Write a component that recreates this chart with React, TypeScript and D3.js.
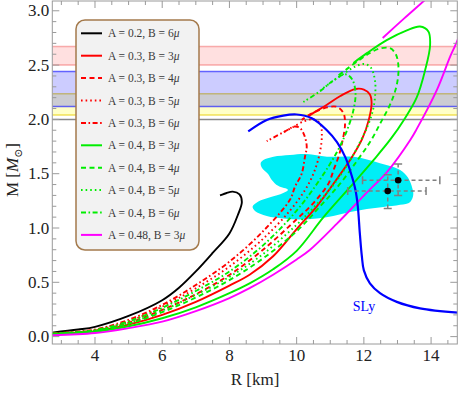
import React from 'react';
import * as d3 from 'd3';

type Pt = [number, number]; // [R in km, M in solar masses]

// mass-radius curves
const blackA02B6: Pt[] = [[2.72, 0.037], [3.5, 0.065], [4, 0.09], [5, 0.19], [6, 0.335], [6.5, 0.45], [7, 0.6], [7.5, 0.77], [8.0, 0.95], [8.25, 1.12], [8.37, 1.24], [8.3, 1.31], [8.1, 1.335], [7.9, 1.32], [7.72, 1.3]];
const redA03B3: Pt[] = [[2.72, 0.025], [4, 0.05], [5, 0.11], [6, 0.2], [7, 0.32], [8, 0.47], [8.6, 0.57], [9.3, 0.74], [10, 0.99], [10.6, 1.2], [11.1, 1.41], [11.6, 1.63], [11.95, 1.82], [12.15, 2.0], [12.23, 2.15], [12.18, 2.23], [12.0, 2.275], [11.75, 2.28], [11.3, 2.215], [10.9, 2.135], [10.5, 2.06], [10.35, 2.03]];
const redA03B4: Pt[] = [[2.72, 0.027], [4, 0.056], [5, 0.127], [6, 0.246], [7, 0.39], [8, 0.568], [9, 0.8], [10, 1.08], [10.5, 1.23], [10.95, 1.41], [11.1, 1.535], [11.25, 1.66], [11.35, 1.78], [11.44, 1.96], [11.39, 2.06], [11.2, 2.115], [10.9, 2.11], [10.45, 2.055], [10.15, 1.995]];
const redA03B5: Pt[] = [[2.72, 0.028], [4, 0.06], [5, 0.14], [6, 0.276], [7, 0.445], [8, 0.645], [9, 0.9], [9.8, 1.16], [10.25, 1.35], [10.5, 1.5], [10.68, 1.68], [10.75, 1.85], [10.7, 1.96], [10.5, 2.0], [10.2, 1.98], [9.9, 1.93], [9.6, 1.88]];
const redA03B6: Pt[] = [[2.72, 0.03], [4, 0.065], [5, 0.155], [6, 0.292], [7, 0.475], [8, 0.69], [9, 0.97], [9.8, 1.26], [9.95, 1.38], [10.15, 1.5], [10.25, 1.66], [10.3, 1.75], [10.22, 1.86], [10.1, 1.92], [9.95, 1.935], [9.6, 1.88], [9.11, 1.8]];
const greenA04B3: Pt[] = [[2.72, 0.022], [4, 0.046], [5, 0.095], [6, 0.169], [7, 0.27], [8, 0.4], [8.6, 0.49], [9.3, 0.62], [10, 0.79], [10.8, 1.1], [11.6, 1.38], [12.3, 1.63], [12.8, 1.82], [13.2, 2.0], [13.57, 2.2], [13.82, 2.45], [13.97, 2.68], [13.92, 2.81], [13.67, 2.855], [13.28, 2.82], [12.68, 2.73], [12.09, 2.61], [11.69, 2.52]];
const greenA04B4: Pt[] = [[2.72, 0.025], [4, 0.053], [5, 0.118], [6, 0.225], [7, 0.36], [8, 0.52], [9, 0.72], [10, 0.97], [10.7, 1.2], [11.3, 1.41], [11.8, 1.62], [12.2, 1.8], [12.5, 1.97], [12.8, 2.15], [12.98, 2.32], [13.03, 2.48], [12.95, 2.6], [12.78, 2.655], [12.5, 2.655], [12.2, 2.615], [11.9, 2.555], [11.5, 2.465], [11.2, 2.395]];
const greenA04B5: Pt[] = [[2.72, 0.026], [4, 0.055], [5, 0.125], [6, 0.24], [7, 0.385], [8, 0.55], [9, 0.76], [10, 1.03], [10.6, 1.22], [11.1, 1.4], [11.55, 1.6], [11.9, 1.8], [12.1, 1.93], [12.25, 2.06], [12.33, 2.2], [12.33, 2.36], [12.2, 2.48], [12.0, 2.51], [11.7, 2.48], [11.4, 2.42], [11.0, 2.335], [10.7, 2.27]];
const greenA04B6: Pt[] = [[2.72, 0.028], [4, 0.06], [5, 0.14], [6, 0.265], [7, 0.42], [8, 0.6], [9, 0.84], [10, 1.16], [10.7, 1.45], [11.2, 1.7], [11.5, 1.9], [11.7, 2.1], [11.75, 2.25], [11.65, 2.37], [11.45, 2.415], [11.1, 2.36], [10.7, 2.26], [10.2, 2.16]];
const magentaA048B3: Pt[] = [[2.72, 0.012], [4, 0.033], [5, 0.078], [6, 0.138], [7, 0.235], [8, 0.355], [8.6, 0.446], [9.3, 0.57], [10, 0.71], [10.4, 0.8], [11.2, 1.04], [12.1, 1.33], [12.7, 1.52], [13.38, 1.81], [13.57, 1.91], [14.17, 2.27], [14.57, 2.58], [14.8, 2.74], [15.05, 3.0], [15.15, 3.2], [15.0, 3.33], [14.6, 3.3], [14.1, 3.18], [13.82, 3.1], [13.2, 2.93], [12.56, 2.75]];
const slyCurve: Pt[] = [[8.56, 1.89], [9.11, 1.995], [9.6, 2.035], [10.0, 2.045], [10.45, 2.01], [10.9, 1.9], [11.2, 1.79], [11.45, 1.65], [11.6, 1.52], [11.75, 1.35], [11.82, 1.2], [11.88, 0.95], [11.94, 0.74], [12.0, 0.61], [12.18, 0.49], [12.48, 0.4], [12.98, 0.32], [13.67, 0.26], [14.8, 0.22]];

// NICER credible region outline
const nicerRegion: Pt[] = [[9.01, 1.627], [9.31, 1.657], [9.8, 1.673], [10.3, 1.682], [10.9, 1.657], [11.69, 1.655], [12.48, 1.597], [13.08, 1.535], [13.32, 1.461], [13.44, 1.369], [13.47, 1.305], [13.38, 1.24], [13.08, 1.213], [12.58, 1.194], [12.09, 1.176], [11.59, 1.148], [11.09, 1.111], [10.6, 1.088], [10.1, 1.079], [9.6, 1.088], [9.11, 1.111], [8.76, 1.157], [8.69, 1.197], [8.86, 1.243], [9.21, 1.282], [9.6, 1.323], [9.74, 1.351], [9.45, 1.388], [9.26, 1.443], [9.15, 1.498], [8.97, 1.553], [8.93, 1.599]];

// J0030 estimates
const psrR = [13.02, 12.71];
const psrRPlus = [1.24, 1.14];
const psrRMinus = [1.06, 1.19];
const psrM = [1.44, 1.34];
const psrMPlus = [0.15, 0.15];
const psrMMinus = [0.14, 0.16];

// horizontal mass constraints (drawn bottom-most first)
const bandLo = [2.04, 2.118, 2.5];
const bandHi = [2.235, 2.44, 2.67];
const lineMass = 2.0;

const legendA = ['0.2', '0.3', '0.3', '0.3', '0.3', '0.4', '0.4', '0.4', '0.4', '0.48'];
const legendB = ['6', '3', '4', '5', '6', '3', '4', '5', '6', '3'];

const xMajor = [4, 6, 8, 10, 12, 14];
const yMajor = [0, 0.5, 1, 1.5, 2, 2.5, 3];
const yTickLabels = ['0.0', '0.5', '1.0', '1.5', '2.0', '2.5', '3.0'];

const DASHED = '5,3.5';
const DOTTED = '1.6,3';
const DASHDOT = '5,2.5,1.6,2.5';

const series = [
  { data: blackA02B6, color: '#000000', dash: undefined },
  { data: redA03B3, color: '#ff0000', dash: undefined },
  { data: redA03B4, color: '#ff0000', dash: DASHED },
  { data: redA03B5, color: '#ff0000', dash: DOTTED },
  { data: redA03B6, color: '#ff0000', dash: DASHDOT },
  { data: greenA04B3, color: '#00ee00', dash: undefined },
  { data: greenA04B4, color: '#00ee00', dash: DASHED },
  { data: greenA04B5, color: '#00ee00', dash: DOTTED },
  { data: greenA04B6, color: '#00ee00', dash: DASHDOT },
  { data: magentaA048B3, color: '#ff00ff', dash: undefined },
];

const L = 52.3, R = 457.3, T = 1, B = 344;
const x = d3.scaleLinear().domain([2.73, 14.78]).range([L, R]);
const y = d3.scaleLinear().domain([-0.068, 3.09]).range([B, T]);

const line = d3.line<Pt>().x(d => x(d[0])).y(d => y(d[1])).curve(d3.curveCatmullRom.alpha(0.5));
const blob = d3.line<Pt>().x(d => x(d[0])).y(d => y(d[1])).curve(d3.curveCatmullRomClosed.alpha(0.5));

const serif = '"Liberation Serif", "DejaVu Serif", serif';
const frameColor = '#9a9a9a';

export default function App() {
  const xMinor = d3.range(3, 14.76, 0.5).filter(v => !xMajor.includes(v));
  const yMinor = d3.range(0, 3.09, 0.1).map(v => Math.round(v * 10) / 10).filter(v => !yMajor.includes(v));
  const bandFill = ['rgba(255,255,0,0.22)', 'rgba(0,0,255,0.2)', 'rgba(255,0,0,0.12)'];
  const bandEdge = ['rgba(235,215,40,0.75)', 'rgba(40,40,255,0.7)', 'rgba(240,80,80,0.45)'];

  return (
    <svg width={458} height={393} style={{ position: 'absolute', left: 0, top: 0, background: '#fff' }} fontFamily={serif}>
      <defs>
        <clipPath id="plot"><rect x={L} y={T} width={R - L} height={B - T} /></clipPath>
      </defs>

      <g clipPath="url(#plot)">
        {bandLo.map((lo, i) => (
          <g key={i}>
            <rect x={L} width={R - L} y={y(bandHi[i])} height={y(lo) - y(bandHi[i])} fill={bandFill[i]} />
            <line x1={L} x2={R} y1={y(bandHi[i])} y2={y(bandHi[i])} stroke={bandEdge[i]} strokeWidth={1.5} />
            <line x1={L} x2={R} y1={y(lo)} y2={y(lo)} stroke={bandEdge[i]} strokeWidth={1.5} />
          </g>
        ))}
        <line x1={L} x2={R} y1={y(lineMass)} y2={y(lineMass)} stroke="#888" strokeWidth={1.5} />

        <path d={blob(nicerRegion) ?? ''} fill="#00eef6" />

        {series.map((s, i) => (
          <path key={i} d={line(s.data) ?? ''} fill="none" stroke={s.color} strokeWidth={1.9} strokeDasharray={s.dash} />
        ))}
        <path d={line(slyCurve) ?? ''} fill="none" stroke="#0000ff" strokeWidth={2.2} />

        {psrR.map((r, i) => {
          const cx = x(r), cy = y(psrM[i]);
          const x0 = x(r - psrRMinus[i]), x1 = x(r + psrRPlus[i]);
          const y0 = y(psrM[i] - psrMMinus[i]), y1 = y(psrM[i] + psrMPlus[i]);
          return (
            <g key={i} stroke="#7f7f7f" strokeWidth={1.5}>
              <line x1={x0} x2={x1} y1={cy} y2={cy} strokeDasharray="4,3" />
              <line x1={cx} x2={cx} y1={y0} y2={y1} strokeDasharray="4,3" />
              <line x1={x0} x2={x0} y1={cy - 4} y2={cy + 4} />
              <line x1={x1} x2={x1} y1={cy - 4} y2={cy + 4} />
              <line x1={cx - 4} x2={cx + 4} y1={y0} y2={y0} />
              <line x1={cx - 4} x2={cx + 4} y1={y1} y2={y1} />
              <circle cx={cx} cy={cy} r={3.3} fill="#000" stroke="none" />
            </g>
          );
        })}
      </g>

      <text x={364} y={311} fill="#0000ff" fontSize={14} textAnchor="middle">SLy</text>

      {/* frame and ticks */}
      <rect x={L} y={T} width={R - L} height={B - T} fill="none" stroke={frameColor} strokeWidth={1} />
      <g stroke={frameColor} strokeWidth={1}>
        {xMajor.map(v => (
          <g key={'xM' + v}>
            <line x1={x(v)} x2={x(v)} y1={B} y2={B - 7} />
            <line x1={x(v)} x2={x(v)} y1={T} y2={T + 7} />
          </g>
        ))}
        {xMinor.map(v => (
          <g key={'xm' + v}>
            <line x1={x(v)} x2={x(v)} y1={B} y2={B - 4} />
            <line x1={x(v)} x2={x(v)} y1={T} y2={T + 4} />
          </g>
        ))}
        {yMajor.map(v => (
          <g key={'yM' + v}>
            <line x1={L} x2={L + 7} y1={y(v)} y2={y(v)} />
            <line x1={R} x2={R - 7} y1={y(v)} y2={y(v)} />
          </g>
        ))}
        {yMinor.map(v => (
          <g key={'ym' + v}>
            <line x1={L} x2={L + 4} y1={y(v)} y2={y(v)} />
            <line x1={R} x2={R - 4} y1={y(v)} y2={y(v)} />
          </g>
        ))}
      </g>
      {xMajor.map(v => (
        <text key={'xl' + v} x={x(v)} y={361} fontSize={17} textAnchor="middle" fill="#222">{v}</text>
      ))}
      {yMajor.map((v, i) => (
        <text key={'yl' + v} x={L - 3} y={y(v) + 5.5} fontSize={17} textAnchor="end" fill="#222">{yTickLabels[i]}</text>
      ))}
      <text x={255} y={385} fontSize={17} textAnchor="middle" fill="#222">R [km]</text>
      <text transform="translate(18,170) rotate(-90)" fontSize={17} textAnchor="middle" fill="#222">
        M [<tspan fontStyle="italic">M</tspan><tspan dy={4} fontSize={11}>⊙</tspan><tspan dy={-4}>]</tspan>
      </text>

      {/* legend */}
      <rect x={76} y={20} width={123} height={230} rx={9} fill="#f2f2f2" stroke="#a47a4c" strokeWidth={1.5} />
      {series.map((s, i) => {
        const ly = 33.3 + i * 22.4;
        return (
          <g key={'lg' + i}>
            <line x1={81} x2={102} y1={ly} y2={ly} stroke={s.color} strokeWidth={2} strokeDasharray={s.dash} />
            <text x={108} y={ly + 4} fontSize={11.5} fill="#3a3a3a">
              A = {legendA[i]}, B = {legendB[i]}<tspan fontStyle="italic">μ</tspan>
            </text>
          </g>
        );
      })}
    </svg>
  );
}
